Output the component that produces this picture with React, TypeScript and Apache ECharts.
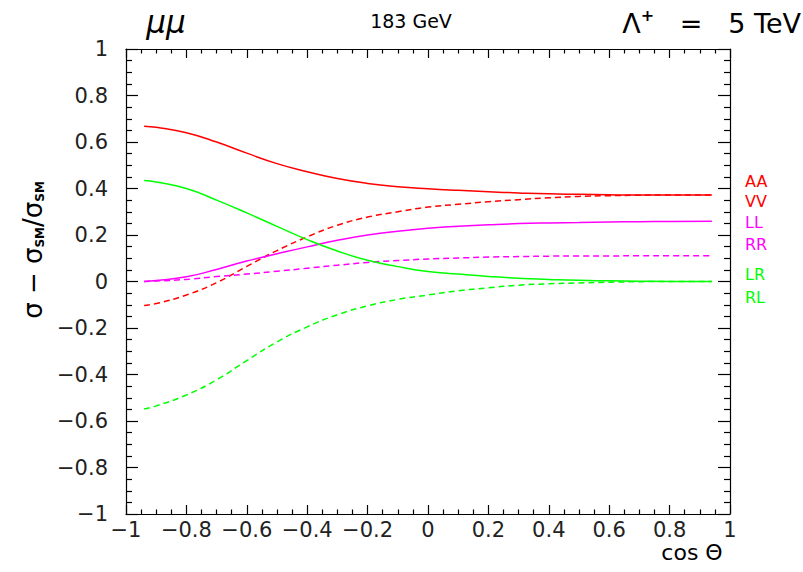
import React, { useEffect, useRef } from "react";
import * as echarts from "echarts";

const cosTheta = [-0.94, -0.9, -0.8, -0.7, -0.6, -0.5, -0.4, -0.3, -0.2, -0.1, 0, 0.1, 0.2, 0.3, 0.4, 0.5, 0.6, 0.7, 0.8, 0.94];
const AA = [0.668, 0.663, 0.64, 0.6, 0.552, 0.507, 0.472, 0.443, 0.422, 0.408, 0.399, 0.392, 0.386, 0.381, 0.377, 0.375, 0.373, 0.372, 0.372, 0.372];
const VV = [-0.103, -0.095, -0.058, -0.005, 0.065, 0.133, 0.192, 0.242, 0.277, 0.3, 0.32, 0.332, 0.343, 0.352, 0.36, 0.366, 0.369, 0.371, 0.372, 0.372];
const LL = [0.0, 0.004, 0.02, 0.052, 0.088, 0.119, 0.149, 0.177, 0.2, 0.216, 0.229, 0.238, 0.244, 0.249, 0.252, 0.254, 0.256, 0.257, 0.258, 0.259];
const RR = [0.0, 0.002, 0.009, 0.021, 0.032, 0.044, 0.057, 0.07, 0.082, 0.09, 0.097, 0.101, 0.105, 0.107, 0.109, 0.11, 0.11, 0.111, 0.111, 0.111];
const LR = [0.434, 0.428, 0.4, 0.35, 0.295, 0.237, 0.18, 0.131, 0.091, 0.064, 0.043, 0.032, 0.022, 0.014, 0.009, 0.005, 0.003, 0.001, 0.0, 0.0];
const RL = [-0.548, -0.535, -0.488, -0.423, -0.34, -0.26, -0.195, -0.143, -0.105, -0.077, -0.058, -0.04, -0.027, -0.016, -0.01, -0.006, -0.003, -0.001, 0.0, 0.0];

const seriesNames = ["AA", "VV", "LL", "RR", "LR", "RL"];
const seriesValues = [AA, VV, LL, RR, LR, RL];
const seriesColors = ["#ff0000", "#ff0000", "#ff00ff", "#ff00ff", "#00ff00", "#00ff00"];
const seriesDashed = [false, true, false, true, false, true];
const legendY = [182, 202, 223, 245, 275, 298];

const FONT = "DejaVu Sans";

function fmt(v: number): string {
  const r = parseFloat(v.toFixed(1));
  if (r === 0) return "0";
  const s = Math.abs(r).toString();
  return r < 0 ? "\u2212" + s : s;
}

export default function App() {
  const ref = useRef<HTMLDivElement>(null);
  useEffect(() => {
    if (!ref.current) return;
    const chart = echarts.init(ref.current, undefined, { renderer: "svg" });
    const axisCommon = (tickLen: number, minorLen: number) => ({
      type: "value" as const,
      min: -1,
      max: 1,
      interval: 0.2,
      axisLine: { show: true, onZero: false, lineStyle: { color: "#000", width: 1.2 } },
      axisTick: { show: true, inside: true, length: tickLen, lineStyle: { color: "#000", width: 1.2 } },
      minorTick: { show: true, splitNumber: 4, length: minorLen, lineStyle: { color: "#000", width: 1.2 } },
      splitLine: { show: false },
      minorSplitLine: { show: false },
    });
    const option: any = {
      animation: false,
      backgroundColor: "#fff",
      grid: { left: 126, right: 73, top: 49, bottom: 58 },
      xAxis: [
        {
          ...axisCommon(9, 4.5),
          position: "bottom",
          axisLabel: {
            show: true,
            interval: 0,
            hideOverlap: false,
            margin: 5,
            fontFamily: FONT,
            fontSize: 21,
            color: "#222",
            formatter: fmt,
          },
        },
        { ...axisCommon(9, 4.5), position: "top", axisLabel: { show: false } },
      ],
      yAxis: [
        {
          ...axisCommon(12, 6),
          position: "left",
          axisLabel: {
            show: true,
            margin: 18,
            fontFamily: FONT,
            fontSize: 21,
            color: "#222",
            formatter: fmt,
          },
        },
        { ...axisCommon(12, 6), position: "right", axisLabel: { show: false } },
      ],
      series: seriesNames.map((name, i) => ({
        name,
        type: "line",
        xAxisIndex: 0,
        yAxisIndex: 0,
        smooth: true,
        showSymbol: false,
        symbol: "none",
        data: cosTheta.map((x, j) => [x, seriesValues[i][j]]),
        lineStyle: { color: seriesColors[i], width: 1.5, type: seriesDashed[i] ? [6, 4] : "solid" },
        itemStyle: { color: seriesColors[i] },
      })),
      graphic: [
        ...seriesNames.map((name, i) => ({
          type: "text",
          left: 745,
          top: legendY[i] - 9,
          style: { text: name, fill: seriesColors[i], fontFamily: FONT, fontSize: 16 },
        })),
        {
          type: "text",
          x: 166,
          y: 22,
          style: {
            text: "\u03bc\u03bc",
            fill: "#000",
            fontFamily: FONT,
            fontSize: 31,
            fontStyle: "italic",
            align: "center",
            verticalAlign: "middle",
          },
        },
        {
          type: "text",
          x: 411,
          y: 21,
          style: { text: "183 GeV", fill: "#000", fontFamily: FONT, fontSize: 19, align: "center", verticalAlign: "middle" },
        },
        {
          type: "text",
          x: 801,
          y: 22,
          style: {
            text: "{m|\u039b}{s|+}{m|   =   5 TeV}",
            align: "right",
            verticalAlign: "middle",
            rich: {
              m: { fontFamily: FONT, fontSize: 27, fill: "#000", verticalAlign: "bottom", lineHeight: 30 },
              s: { fontFamily: FONT, fontSize: 16, fontWeight: "bold", fill: "#000", verticalAlign: "top", lineHeight: 30 },
            },
          },
        },
        {
          type: "text",
          x: 692,
          y: 552,
          style: { text: "cos \u0398", fill: "#000", fontFamily: FONT, fontSize: 22, align: "center", verticalAlign: "middle" },
        },
        {
          type: "text",
          x: 31,
          y: 250,
          rotation: Math.PI / 2,
          style: {
            text: "{m|\u03c3 \u2212 \u03c3}{s|SM}{m|/\u03c3}{s|SM}",
            align: "center",
            verticalAlign: "middle",
            rich: {
              m: { fontFamily: FONT, fontSize: 26, fill: "#000", verticalAlign: "bottom", lineHeight: 30 },
              s: { fontFamily: FONT, fontSize: 12, fontWeight: "bold", fill: "#000", verticalAlign: "bottom", lineHeight: 22 },
            },
          },
        },
      ],
    };
    chart.setOption(option);
    return () => chart.dispose();
  }, []);
  return (
    <div
      ref={ref}
      style={{ position: "fixed", left: 0, top: 0, width: 803, height: 572, background: "#fff" }}
    />
  );
}
